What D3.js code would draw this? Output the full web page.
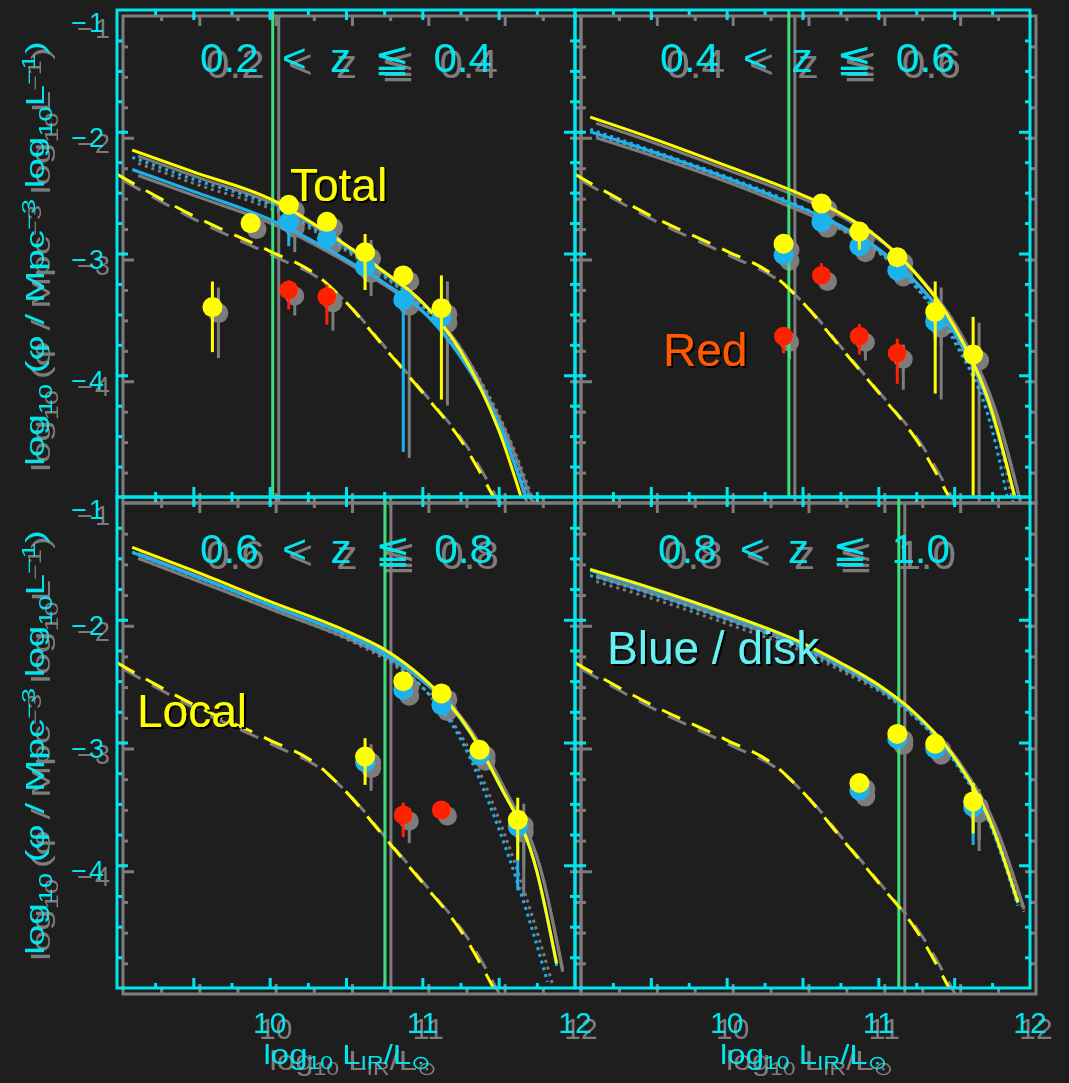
<!DOCTYPE html>
<html>
<head>
<meta charset="utf-8">
<script src="https://cdn.jsdelivr.net/npm/d3@7"></script>
<style>
  html, body { margin: 0; padding: 0; background: #1e1e1e; }
  svg { display: block; }
</style>
</head>
<body>
<svg id="chart" width="1069" height="1083"></svg>
<script>
// ---- data: IR luminosity functions in four redshift slices ----
const zEdges = ["0.2", "0.4", "0.6", "0.8", "1.0"];
const xTickLabels = [10, 11, 12];
const yTickLabels = [-1, -2, -3, -4];

// completeness limit in log10 L_IR per slice
const completeness = [10.02, 10.41, 10.755, 11.135];

// local IR luminosity function (dashed, same in every slice)
const localLum = [9.0, 9.5, 10.0, 10.3, 10.5, 10.75, 11.0, 11.25, 11.5];
const localPhi = [-2.35, -2.69, -2.98, -3.17, -3.40, -3.77, -4.14, -4.53, -5.08];

// model curves per slice: total (yellow), blue/disk (solid), blue alt (dotted)
const totalLum = [
  [9.1, 9.5, 10.0, 10.5, 10.75, 11.0, 11.25, 11.5, 11.75],
  [9.1, 9.5, 10.0, 10.5, 10.75, 11.0, 11.25, 11.5, 11.75, 11.9],
  [9.1, 9.5, 10.0, 10.5, 10.75, 11.0, 11.25, 11.5, 11.75, 11.88],
  [9.1, 9.5, 10.0, 10.5, 10.75, 11.0, 11.25, 11.5, 11.75, 11.92]
];
const totalPhi = [
  [-2.15, -2.33, -2.55, -2.93, -3.15, -3.40, -3.80, -4.45, -5.43],
  [-1.88, -2.05, -2.28, -2.52, -2.67, -2.87, -3.17, -3.60, -4.30, -5.00],
  [-1.41, -1.60, -1.85, -2.09, -2.24, -2.47, -2.80, -3.33, -4.05, -4.80],
  [-1.59, -1.74, -1.95, -2.19, -2.35, -2.53, -2.77, -3.12, -3.68, -4.30]
];
const blueFitPhi = [
  [-2.31, -2.49, -2.72, -3.05, -3.24, -3.47, -3.85, -4.40, -5.25],
  [-2.00, -2.16, -2.38, -2.63, -2.77, -2.96, -3.24, -3.65, -4.32, -5.00],
  [-1.45, -1.64, -1.88, -2.12, -2.27, -2.49, -2.81, -3.33, -4.05, -4.82],
  [-1.60, -1.75, -1.96, -2.20, -2.36, -2.54, -2.78, -3.13, -3.69, -4.31]
];
const dottedLum = [
  [9.1, 9.5, 10.0, 10.5, 10.75, 11.0, 11.25, 11.5, 11.75],
  [9.1, 9.5, 10.0, 10.5, 10.75, 11.0, 11.25, 11.5, 11.75, 11.85],
  [9.1, 9.5, 10.0, 10.5, 10.75, 11.0, 11.25, 11.5, 11.75, 11.82],
  [9.1, 9.5, 10.0, 10.5, 10.75, 11.0, 11.25, 11.5, 11.75, 11.92]
];
const dottedPhi = [
  [-2.21, -2.39, -2.60, -2.96, -3.18, -3.43, -3.81, -4.38, -5.20],
  [-1.98, -2.15, -2.37, -2.62, -2.78, -2.98, -3.28, -3.72, -4.45, -5.00],
  [-1.45, -1.64, -1.88, -2.13, -2.30, -2.55, -2.97, -3.70, -4.65, -4.95],
  [-1.64, -1.79, -2.00, -2.23, -2.39, -2.56, -2.80, -3.15, -3.71, -4.33]
];

// measured points: total (yellow), blue/disk, red; error bars as up / down
const totLum  = [[9.625, 9.875, 10.125, 10.375, 10.625, 10.875, 11.125],
                 [10.375, 10.625, 10.875, 11.125, 11.375, 11.625],
                 [10.625, 10.875, 11.125, 11.375, 11.625],
                 [10.875, 11.125, 11.375, 11.625]];
const totPhi  = [[-3.44, -2.75, -2.60, -2.74, -2.99, -3.18, -3.45],
                 [-2.92, -2.59, -2.82, -3.03, -3.48, -3.83],
                 [-3.115, -2.50, -2.60, -3.06, -3.63],
                 [-3.33, -2.93, -3.01, -3.48]];
const totUp   = [[0.21, 0, 0, 0, 0.15, 0, 0.27],
                 [0, 0, 0.07, 0, 0.25, 0.31],
                 [0.15, 0, 0, 0, 0.18],
                 [0, 0, 0, 0.15]];
const totDown = [[0.37, 0, 0, 0, 0.31, 0, 0.75],
                 [0, 0, 0.15, 0, 0.67, 1.17],
                 [0.23, 0, 0, 0, 0.33],
                 [0, 0, 0, 0.26]];

const blueLum  = [[10.125, 10.375, 10.625, 10.875, 11.125],
                  [10.375, 10.625, 10.875, 11.125, 11.375],
                  [10.625, 10.875, 11.125, 11.375, 11.625],
                  [10.875, 11.125, 11.375, 11.625]];
const bluePhi  = [[-2.74, -2.875, -3.11, -3.38, -3.52],
                  [-3.01, -2.74, -2.94, -3.14, -3.56],
                  [-3.16, -2.57, -2.695, -3.10, -3.685],
                  [-3.39, -2.97, -3.05, -3.525]];
const blueDown = [[0.20, 0, 0, 1.25, 0],
                  [0, 0, 0.08, 0, 0.15],
                  [0, 0, 0, 0, 0.52],
                  [0, 0, 0, 0.31]];

const redLum  = [[10.125, 10.375], [10.375, 10.625, 10.875, 11.125], [10.875, 11.125], []];
const redPhi  = [[-3.30, -3.355], [-3.68, -3.18, -3.68, -3.82], [-3.59, -3.55], []];
const redUp   = [[0.08, 0.10], [0.05, 0.10, 0.10, 0.12], [0.10, 0], []];
const redDown = [[0.16, 0.23], [0.14, 0.05, 0.15, 0.25], [0.18, 0], []];

// ---- layout & styles ----
const W = 1069, H = 1083;
const colX = [[117, 575], [575, 1030]];
const rowY = [[10, 497], [497, 988]];
const titleSpan = [[200, 492], [660, 955], [200, 493], [658, 950]];
const titleBase = [72, 72, 563, 563];
const C = {
  bg: "#1e1e1e", cyan: "#00e6ef", yellow: "#ffff00", blue: "#1cb2ee",
  red: "#ff2400", green: "#3ae07a", shade: "#7c7c7c"
};

const svg = d3.select("#chart");
const defs = svg.append("defs");

// grey drop copy behind every plotted element
const shade = defs.append("filter").attr("id", "shade")
  .attr("filterUnits", "userSpaceOnUse")
  .attr("x", 0).attr("y", 0).attr("width", W).attr("height", H);
shade.append("feFlood").attr("flood-color", C.shade).attr("result", "f");
shade.append("feComposite").attr("in", "f").attr("in2", "SourceAlpha").attr("operator", "in").attr("result", "s");
shade.append("feOffset").attr("in", "s").attr("dx", 6).attr("dy", 6).attr("result", "o");
const sm = shade.append("feMerge");
sm.append("feMergeNode").attr("in", "o");
sm.append("feMergeNode").attr("in", "SourceGraphic");

// small black shadow for the annotation words
const dark = defs.append("filter").attr("id", "dark")
  .attr("x", "-10%").attr("y", "-10%").attr("width", "130%").attr("height", "140%");
dark.append("feFlood").attr("flood-color", "#000").attr("result", "f");
dark.append("feComposite").attr("in", "f").attr("in2", "SourceAlpha").attr("operator", "in").attr("result", "s");
dark.append("feOffset").attr("in", "s").attr("dx", 2).attr("dy", 2).attr("result", "o");
const dm = dark.append("feMerge");
dm.append("feMergeNode").attr("in", "o");
dm.append("feMergeNode").attr("in", "SourceGraphic");

svg.append("rect").attr("width", W).attr("height", H).attr("fill", C.bg);

const plot = svg.append("g").attr("filter", "url(#shade)");
const FONT = "'Liberation Sans', Arial, 'DejaVu Sans', sans-serif";

for (let i = 0; i < 4; i++) {
  const col = i % 2, row = Math.floor(i / 2);
  const x = d3.scaleLinear().domain([9, 12]).range(colX[col]);
  const y = d3.scaleLinear().domain([-5, -1]).range([rowY[row][1], rowY[row][0]]);
  const [x0, x1] = colX[col], [y0, y1] = rowY[row];

  const g = plot.append("g");
  defs.append("clipPath").attr("id", "clip" + i)
    .append("rect").attr("x", x0).attr("y", y0).attr("width", x1 - x0).attr("height", y1 - y0);
  const inner = g.append("g").attr("clip-path", `url(#clip${i})`);

  // completeness limit
  inner.append("line")
    .attr("x1", x(completeness[i])).attr("x2", x(completeness[i]))
    .attr("y1", y(-1)).attr("y2", y(-5))
    .attr("stroke", C.green).attr("stroke-width", 3);

  const line = d3.line().x(d => x(d[0])).y(d => y(d[1])).curve(d3.curveMonotoneX);

  inner.append("path").datum(d3.zip(localLum, localPhi))
    .attr("d", line).attr("fill", "none").attr("stroke", C.yellow)
    .attr("stroke-width", 3).attr("stroke-dasharray", "20,13");

  inner.append("path").datum(d3.zip(dottedLum[i], dottedPhi[i]))
    .attr("d", line).attr("fill", "none").attr("stroke", C.blue)
    .attr("stroke-width", 3).attr("stroke-dasharray", "3,4");

  inner.append("path").datum(d3.zip(totalLum[i], blueFitPhi[i]))
    .attr("d", line).attr("fill", "none").attr("stroke", C.blue).attr("stroke-width", 3);

  inner.append("path").datum(d3.zip(totalLum[i], totalPhi[i]))
    .attr("d", line).attr("fill", "none").attr("stroke", C.yellow).attr("stroke-width", 3);

  // data points with error bars
  function points(lum, phi, up, down, color, r) {
    const d = lum.map((l, k) => ({ l, p: phi[k], u: up ? up[k] : 0, dn: down ? down[k] : 0 }));
    inner.append("g").selectAll("line").data(d.filter(e => e.u > 0 || e.dn > 0)).join("line")
      .attr("x1", e => x(e.l)).attr("x2", e => x(e.l))
      .attr("y1", e => y(e.p + e.u)).attr("y2", e => y(e.p - e.dn))
      .attr("stroke", color).attr("stroke-width", 3);
    inner.append("g").selectAll("circle").data(d).join("circle")
      .attr("cx", e => x(e.l)).attr("cy", e => y(e.p)).attr("r", r)
      .attr("fill", color);
  }
  points(redLum[i], redPhi[i], redUp[i], redDown[i], C.red, 9.5);
  points(blueLum[i], bluePhi[i], null, blueDown[i], C.blue, 10);
  points(totLum[i], totPhi[i], totUp[i], totDown[i], C.yellow, 10);

  // frame
  g.append("rect").attr("x", x0).attr("y", y0).attr("width", x1 - x0).attr("height", y1 - y0)
    .attr("fill", "none").attr("stroke", C.cyan).attr("stroke-width", 3);

  // inward ticks on all four sides
  const xMinor = d3.range(9.25, 12, 0.5);
  const xMajor = d3.range(9.5, 12, 0.5);
  const yMinor = d3.range(-4.75, -1, 0.25).filter(v => Math.abs(v - Math.round(v)) > 1e-6);
  const yMajor = [-4, -3, -2];
  const tickSets = [
    [d3.axisBottom, x, xMinor, 5, `translate(0,${y1})`],
    [d3.axisBottom, x, xMajor, 10, `translate(0,${y1})`],
    [d3.axisTop, x, xMinor, 5, `translate(0,${y0})`],
    [d3.axisTop, x, xMajor, 10, `translate(0,${y0})`],
    [d3.axisLeft, y, yMinor, 5, `translate(${x0},0)`],
    [d3.axisLeft, y, yMajor, 11, `translate(${x0},0)`],
    [d3.axisRight, y, yMinor, 5, `translate(${x1},0)`],
    [d3.axisRight, y, yMajor, 11, `translate(${x1},0)`]
  ];
  tickSets.forEach(([ax, sc, vals, len, tr]) => {
    g.append("g").attr("transform", tr)
      .call(ax(sc).tickValues(vals).tickSizeInner(-len).tickSizeOuter(0).tickFormat(""))
      .call(s => s.select(".domain").remove())
      .call(s => s.selectAll("line").attr("stroke", C.cyan).attr("stroke-width", 3));
  });

  // redshift slice title
  g.append("text")
    .attr("xml:space", "preserve").style("white-space", "pre")
    .attr("x", titleSpan[i][0]).attr("y", titleBase[i])
    .attr("textLength", titleSpan[i][1] - titleSpan[i][0])
    .attr("lengthAdjust", "spacingAndGlyphs")
    .attr("font-family", FONT).attr("font-size", 40).attr("fill", C.cyan)
    .text(`${zEdges[i]}  <  z  \u2266  ${zEdges[i + 1]}`);

  // tick labels
  if (col === 0) {
    g.append("g").selectAll("text").data(yTickLabels).join("text")
      .attr("x", 106)
      .attr("y", v => y(v) + (v === -1 ? 22 : 15))
      .attr("text-anchor", "end").attr("font-family", FONT).attr("font-size", 27)
      .attr("letter-spacing", 2).attr("fill", C.cyan)
      .text(v => "\u2212" + Math.abs(v));
  }
  if (row === 1) {
    g.append("g").selectAll("text").data(xTickLabels).join("text")
      .attr("x", v => x(v)).attr("y", 1033)
      .attr("text-anchor", "middle").attr("font-family", FONT).attr("font-size", 30)
      .attr("fill", C.cyan).text(v => v);
  }
}

// axis titles, stretched to their drawn length
function fitted(parent, parts, size, targetLen, transform, subDrop) {
  const grp = parent.append("g");
  const t = grp.append("text").attr("font-family", FONT).attr("font-size", size)
    .attr("fill", C.cyan).attr("text-anchor", "middle");
  let shift = 0;
  parts.forEach(([str, kind]) => {
    const want = kind === "sub" ? size * subDrop : kind === "sup" ? -size * 0.38 : 0;
    t.append("tspan").attr("dy", want - shift)
      .attr("font-size", kind ? size * 0.7 : size).text(str);
    shift = want;
  });
  const w = t.node().getComputedTextLength();
  grp.attr("transform", transform + ` scale(${targetLen / w},1)`);
}

const yTitle = [["log"], ["10", "sub"], [" (\u03C6 / Mpc"], ["\u22123", "sup"], [" log"], ["10", "sub"], ["L"], ["\u22121", "sup"], [")"]];
const xTitle = [["log"], ["10", "sub"], [" L"], ["IR", "sub"], ["/L"], ["\u2299", "sub"]];

rowY.forEach(([a, b]) => fitted(plot, yTitle, 25, 425, `translate(44,${(a + b) / 2}) rotate(-90)`, 0.3));
colX.forEach(([a, b]) => fitted(plot, xTitle, 27, 167, `translate(${(a + b) / 2 + 1},1064)`, 0.18));

// annotation words
const notes = [
  { text: "Total", x: 290, y: 201, color: C.yellow },
  { text: "Red", x: 663, y: 366, color: "#ff5a00" },
  { text: "Local", x: 137, y: 727, color: C.yellow },
  { text: "Blue / disk", x: 607, y: 664, color: "#66f0f2" }
];
svg.append("g").attr("filter", "url(#dark)")
  .selectAll("text").data(notes).join("text")
  .attr("x", d => d.x).attr("y", d => d.y)
  .attr("font-family", FONT).attr("font-size", 46)
  .attr("fill", d => d.color).text(d => d.text);
</script>
</body>
</html>
